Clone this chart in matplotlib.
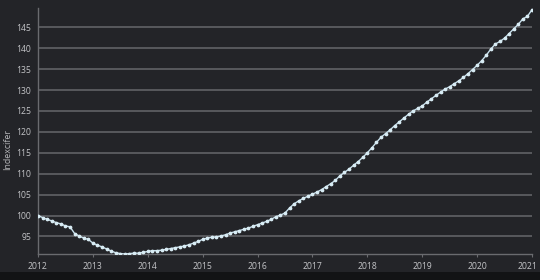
import matplotlib
matplotlib.use("Agg")
import matplotlib.pyplot as plt
from matplotlib.patches import Rectangle
from matplotlib.transforms import ScaledTranslation
import numpy as np

start_year = 2012
values = [
    100.0, 99.5, 99.1, 98.7, 98.3, 98.0, 97.5, 97.3, 95.7, 95.1, 94.6, 94.3,
    93.4, 92.9, 92.5, 92.0, 91.5, 91.1, 90.9, 90.8, 90.9, 91.0, 91.0, 91.2,
    91.4, 91.6, 91.6, 91.7, 91.9, 92.1, 92.3, 92.5, 92.7, 93.0, 93.4, 93.8,
    94.3, 94.6, 94.8, 94.9, 95.1, 95.4, 95.8, 96.1, 96.4, 96.7, 97.0, 97.4,
    97.8, 98.2, 98.6, 99.1, 99.7, 100.1, 100.6, 101.8, 102.8, 103.5, 104.1, 104.6,
    105.1, 105.6, 106.2, 106.9, 107.6, 108.4, 109.5, 110.3, 111.1, 112.0, 112.9, 113.9,
    115.0, 116.2, 117.5, 118.7, 119.6, 120.5, 121.5, 122.4, 123.3, 124.2, 125.0, 125.6,
    126.2, 127.1, 127.9, 128.7, 129.5, 130.2, 130.8, 131.5, 132.2, 133.0, 133.9, 134.9,
    135.9, 137.0, 138.3, 139.8, 141.0, 141.6, 142.4, 143.5, 144.6, 145.7, 147.0, 147.6,
    149.2,
]
year_ticks = list(range(2012, 2022))
y_ticks = [95, 100, 105, 110, 115, 120, 125, 130, 135, 140, 145]
y_label = "Indexcifer"

x = start_year + np.arange(len(values)) / 12.0

bg = "#232428"
fig = plt.figure(figsize=(5.4, 2.8), dpi=100, facecolor=bg)
fig.patches.append(Rectangle((0, 0), 1, 8 / 280, transform=fig.transFigure,
                             facecolor="#121315", edgecolor="none", zorder=0))
ax = fig.add_axes([38 / 540, 1 - 254 / 280, (532 - 38) / 540, (254 - 8) / 280])
ax.set_facecolor(bg)

for t in y_ticks:
    ax.axhline(t, color="#5c5d61", lw=1.3, zorder=1)

ax.plot(x, values, color="#c9e2ee", lw=1.0, marker="o", ms=1.7,
        mec="#d8ecf4", mfc="#d8ecf4", zorder=3)

ax.set_xlim(2012, 2021)
ax.set_ylim(min(values), max(values) + 0.4)
ax.set_xticks(year_ticks)
ax.set_xticklabels([str(y) for y in year_ticks])
ax.set_yticks(y_ticks)
ax.set_yticklabels([str(v) for v in y_ticks])

font = "Open Sans"
for lab in ax.get_xticklabels() + ax.get_yticklabels():
    lab.set_fontfamily(font)
    lab.set_fontsize(6.2)
    lab.set_color("#c4c5c8")

ax.tick_params(axis="x", length=2.5, width=0.8, color="#6a6b6f", pad=3)
ax.tick_params(axis="y", length=0, pad=5)

last = ax.get_xticklabels()[-1]
last.set_transform(last.get_transform() + ScaledTranslation(-5 / 100, 0, fig.dpi_scale_trans))

for s in ["top", "right"]:
    ax.spines[s].set_visible(False)
for s in ["left", "bottom"]:
    ax.spines[s].set_color("#6a6b6f")
    ax.spines[s].set_linewidth(1.0)

fig.text(8 / 540, 1 - 150 / 280, y_label, rotation=90, ha="center", va="center",
         fontsize=6.3, color="#b8b9bc", fontfamily=font)

fig.savefig("out.png", dpi=100, facecolor=bg)
